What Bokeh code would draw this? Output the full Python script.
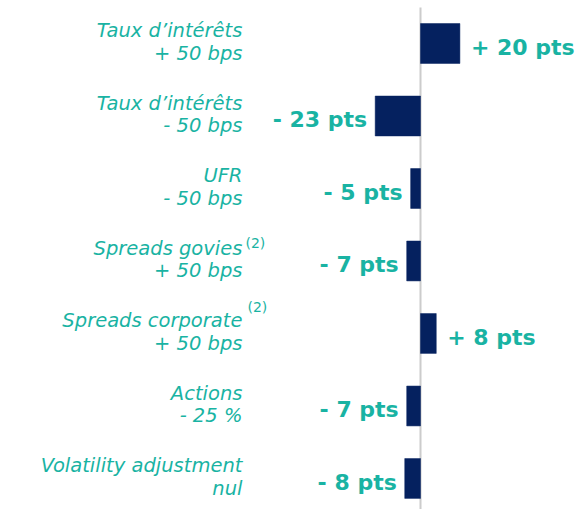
from bokeh.plotting import figure
from bokeh.models import ColumnDataSource, Range1d
from bokeh.core.properties import value
from bokeh.embed import file_html
from bokeh.resources import INLINE

# ---- data ----
line1 = ["Taux d\u2019intérêts", "Taux d\u2019intérêts", "UFR", "Spreads govies",
         "Spreads corporate", "Actions", "Volatility adjustment"]
line2 = ["+ 50 bps", "- 50 bps", "- 50 bps", "+ 50 bps", "+ 50 bps", "- 25 %", "nul"]
values = [20, -23, -5, -7, 8, -7, -8]
value_labels = ["+ 20 pts", "- 23 pts", "- 5 pts", "- 7 pts", "+ 8 pts", "- 7 pts", "- 8 pts"]
sup_rows = [3, 4]
sup_labels = ["(2)", "(2)"]

TEAL = "#19b3a3"
NAVY = "#05215f"
W, H = 588, 509
FONT = value("DejaVu Sans")

idx = list(range(len(values)))
Y_TOP, Y_BOTTOM = -0.593, 6.428
p = figure(width=W, height=H, output_backend="svg", toolbar_location=None,
           x_range=Range1d(-213.2, 85.28), y_range=Range1d(Y_BOTTOM, Y_TOP),
           min_border=0, outline_line_color=None)
p.xaxis.visible = False
p.yaxis.visible = False
p.grid.visible = False

# zero axis line
p.segment(x0=[0], y0=[-0.497], x1=[0], y1=[Y_BOTTOM], line_color="#cccccc",
          line_width=2)

src = ColumnDataSource(dict(y=idx, v=values, l1=line1, l2=line2, vl=value_labels))
p.hbar(y="y", left=0, right="v", height=0.55, source=src,
       fill_color=NAVY, line_color=NAVY, line_width=0.5)

LABEL_X = -90.4
p.text(x=LABEL_X, y="y", text="l1", source=src, text_align="right",
       text_baseline="alphabetic", y_offset=-12.5, text_color=TEAL,
       text_font=FONT, text_font_style="italic", text_font_size="19.5px")
p.text(x=LABEL_X, y="y", text="l2", source=src, text_align="right",
       text_baseline="alphabetic", y_offset=10, text_color=TEAL,
       text_font=FONT, text_font_style="italic", text_font_size="19.5px")

pos = ColumnDataSource(dict(y=[i for i in idx if values[i] > 0],
                            v=[values[i] for i in idx if values[i] > 0],
                            t=[value_labels[i] for i in idx if values[i] > 0]))
neg = ColumnDataSource(dict(y=[i for i in idx if values[i] <= 0],
                            v=[values[i] for i in idx if values[i] <= 0],
                            t=[value_labels[i] for i in idx if values[i] <= 0]))
for s, align, xo in ((pos, "left", 11), (neg, "right", -8)):
    p.text(x="v", y="y", text="t", source=s, text_align=align, x_offset=xo,
           text_baseline="alphabetic", y_offset=4, text_color=TEAL,
           text_font=FONT, text_font_style="bold", text_font_size="22px")

sup = ColumnDataSource(dict(y=sup_rows, t=sup_labels, xo=[3, 5], yo=[-18, -26]))
p.text(x=LABEL_X, y="y", text="t", source=sup, x_offset="xo", y_offset="yo",
       text_align="left", text_baseline="alphabetic", text_color=TEAL,
       text_font=FONT, text_font_size="14px")

open("out.html", "w").write(file_html(p, INLINE))
